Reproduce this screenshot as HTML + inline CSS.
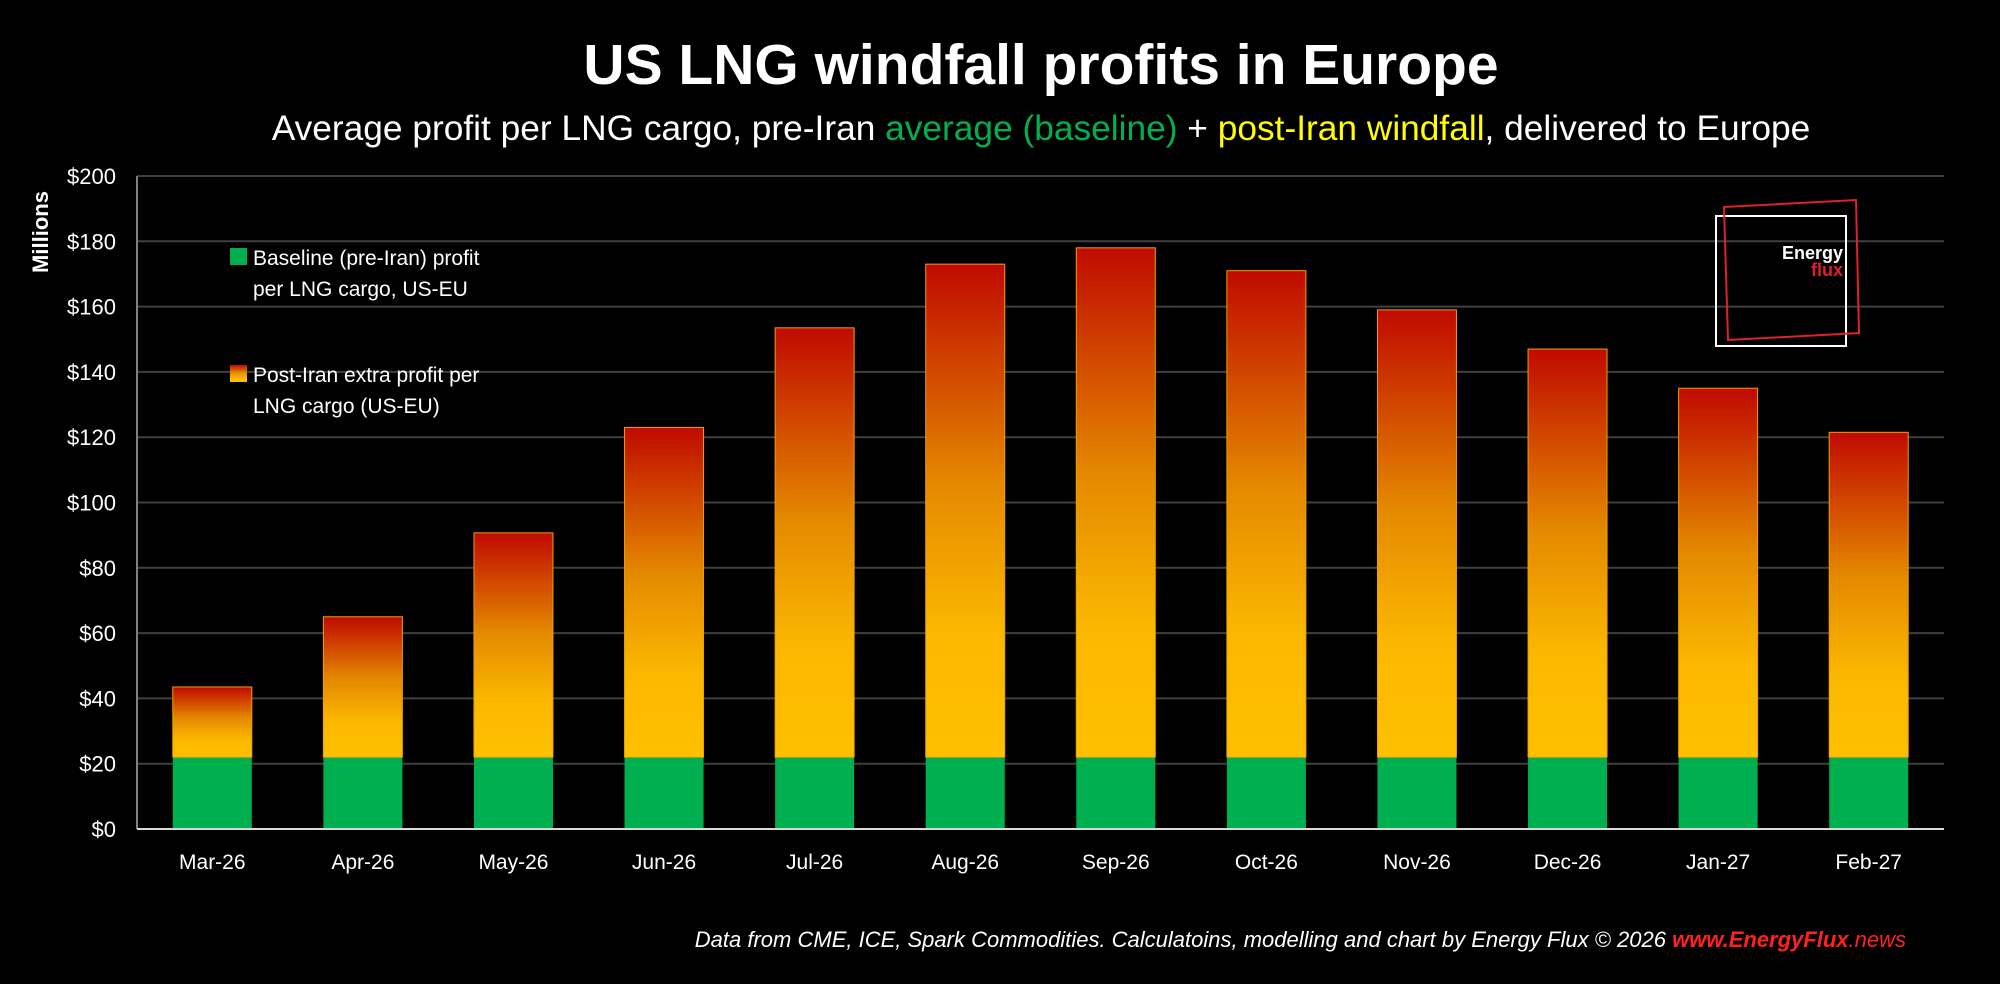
<!DOCTYPE html>
<html><head><meta charset="utf-8"><style>
body{margin:0;background:#000;}
svg{display:block;font-family:"Liberation Sans",sans-serif;}
</style></head><body>
<svg id="c" width="2000" height="984" viewBox="0 0 2000 984">
<defs>
<linearGradient id="g" x1="0" y1="0" x2="0" y2="1">
<stop offset="0" stop-color="#c00a00"/>
<stop offset="0.45" stop-color="#e58a00"/>
<stop offset="0.75" stop-color="#fbb800"/>
<stop offset="1" stop-color="#ffc000"/>
</linearGradient>
</defs>
<text x="1041" y="84" text-anchor="middle" fill="#fff" font-size="57" font-weight="bold">US LNG windfall profits in Europe</text>
<text x="1041" y="140" text-anchor="middle" fill="#fff" font-size="35.3">Average profit per LNG cargo, pre-Iran <tspan fill="#00b050">average (baseline)</tspan> + <tspan fill="#ffff00">post-Iran windfall</tspan>, delivered to Europe</text>
<g id="grid"></g>
<g id="bars"></g>
<g id="axes"></g>
<text transform="translate(48,232) rotate(-90)" text-anchor="middle" fill="#fff" font-size="22" font-weight="bold">Millions</text>
<g>
<rect x="230" y="248" width="17" height="17" fill="#00b050"/>
<text x="253" y="265" fill="#fff" font-size="21">Baseline (pre-Iran) profit</text>
<text x="253" y="296" fill="#fff" font-size="21">per LNG cargo, US-EU</text>
<rect x="230" y="365" width="17" height="17" fill="url(#g)"/>
<text x="253" y="382" fill="#fff" font-size="21">Post-Iran extra profit per</text>
<text x="253" y="413" fill="#fff" font-size="21">LNG cargo (US-EU)</text>
</g>
<g>
<rect x="1716" y="216" width="130" height="130" fill="none" stroke="#fff" stroke-width="2"/>
<polygon points="1724,207 1856,200 1859,333 1728,340" fill="none" stroke="#e0202a" stroke-width="2"/>
<text x="1843" y="259" text-anchor="end" fill="#fff" font-size="18" font-weight="bold">Energy</text>
<text x="1843" y="276" text-anchor="end" fill="#e0202a" font-size="18" font-weight="bold">flux</text>
</g>
<text x="1906" y="947" text-anchor="end" font-size="22" font-style="italic" fill="#fff">Data from CME, ICE, Spark Commodities. Calculatoins, modelling and chart by Energy Flux © 2026 <tspan fill="#ff2020" font-weight="bold">www.EnergyFlux</tspan><tspan fill="#ff2020">.news</tspan></text>
</svg>
<script>
const categories=["Mar-26","Apr-26","May-26","Jun-26","Jul-26","Aug-26","Sep-26","Oct-26","Nov-26","Dec-26","Jan-27","Feb-27"];
const baseline=[22,22,22,22,22,22,22,22,22,22,22,22];
const windfall=[21.5,43,68.7,101,131.5,151,156,149,137,125,113,99.5];
const yTicks=[0,20,40,60,80,100,120,140,160,180,200];
const yTickLabels=["$0","$20","$40","$60","$80","$100","$120","$140","$160","$180","$200"];
const NS="http://www.w3.org/2000/svg";
const X0=137,X1=1944,Y0=829,Y1=176,YMAX=200;
const y=v=>Y0-(v/YMAX)*(Y0-Y1);
const band=(X1-X0)/categories.length;
const xc=i=>X0+band*(i+0.5);
const BW=79;
function mk(t,a,p){const e=document.createElementNS(NS,t);for(const k in a)e.setAttribute(k,a[k]);p.appendChild(e);return e;}
const grid=document.getElementById('grid'),bars=document.getElementById('bars'),axes=document.getElementById('axes');
yTicks.forEach((v,i)=>{
 if(v>0){const l=mk('line',{x1:X0,x2:X1,y1:y(v),y2:y(v),stroke:'#404040','stroke-width':2},grid);
 
 }
 const t=mk('text',{x:116,y:y(v)+8,'text-anchor':'end',fill:'#fff','font-size':22},axes);
 t.textContent=yTickLabels[i];
 
 
});
categories.forEach((c,i)=>{
 const b=mk('rect',{x:xc(i)-BW/2,y:y(baseline[i]),width:BW,height:y(0)-y(baseline[i]),fill:'#00b050'},bars);
 
 
 const top=baseline[i]+windfall[i];
 const w=mk('rect',{x:xc(i)-BW/2,y:y(top),width:BW,height:y(baseline[i])-y(top),fill:'url(#g)',stroke:'#f0a000','stroke-width':1},bars);
 
 
 const t=mk('text',{x:xc(i),y:869,'text-anchor':'middle',fill:'#fff','font-size':21},axes);
 t.textContent=c;
 
 
});
const ya=mk('line',{x1:X0,x2:X0,y1:Y1,y2:Y0,stroke:'#808080','stroke-width':2},axes);


const xa=mk('line',{x1:X0,x2:X1,y1:Y0,y2:Y0,stroke:'#d9d9d9','stroke-width':2},axes);


</script>
</body></html>
